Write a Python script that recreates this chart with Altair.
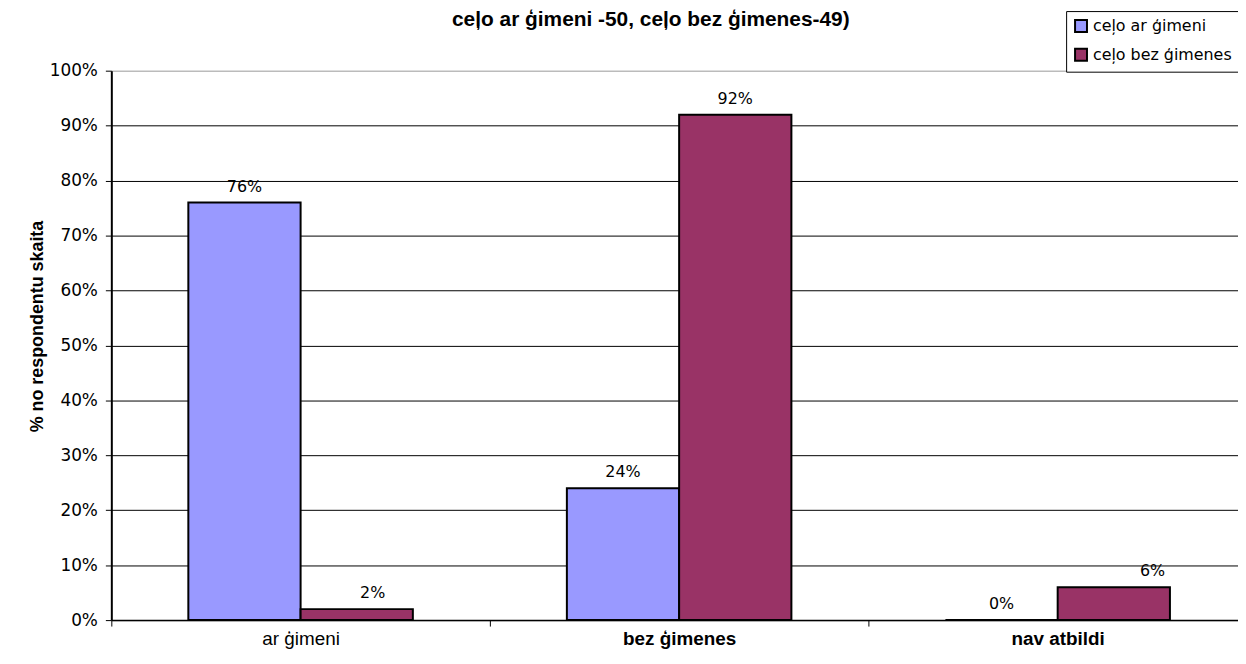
import altair as alt
import pandas as pd

categories = ["ar ģimeni", "bez ģimenes", "nav atbildi"]
series_names = ["ceļo ar ģimeni", "ceļo bez ģimenes"]
with_family = [0.76, 0.24, 0.00]
without_family = [0.02, 0.92, 0.06]
y_ticks = [0.0, 0.1, 0.2, 0.3, 0.4, 0.5, 0.6, 0.7, 0.8, 0.9, 1.0]
colors = ["#9999FF", "#993366"]
title_text = "ceļo ar ģimeni -50, ceļo bez ģimenes-49)"
y_title = "% no respondentu skaita"

rows = []
for i, c in enumerate(categories):
    rows.append({"category": c, "series": series_names[0], "value": with_family[i]})
    rows.append({"category": c, "series": series_names[1], "value": without_family[i]})
df = pd.DataFrame(rows)

x_enc = alt.X(
    "category:N",
    sort=categories,
    scale=alt.Scale(paddingInner=0, paddingOuter=0, range=[0, 1143]),
    axis=alt.Axis(
        title=None,
        labelFont="Liberation Sans",
        labelFontSize=19,
        labelFontWeight=alt.expr("datum.value == 'ar ģimeni' ? 'normal' : 'bold'"),
        labelColor="black",
        labelAngle=0,
        tickBand="extent",
        tickSize=6,
        tickColor="black",
        tickWidth=1,
        domainColor="black",
        domainWidth=1.5,
        labelPadding=4,
        grid=False,
    ),
)
xo_enc = alt.XOffset(
    "series:N", sort=series_names, scale=alt.Scale(paddingInner=0, paddingOuter=0.686)
)
y_enc = alt.Y(
    "value:Q",
    scale=alt.Scale(domain=[0, 1], nice=False),
    axis=alt.Axis(
        values=y_ticks,
        format=".0%",
        title=y_title,
        titleFont="Liberation Sans",
        titleFontSize=18,
        titleFontWeight="bold",
        titleColor="black",
        titleAngle=270,
        titleX=-74,
        titleY=257,
        titleAlign="center",
        titleBaseline="middle",
        labelFont="DejaVu Sans",
        labelFontSize=17,
        labelColor="black",
        labelPadding=8,
        tickSize=6,
        tickColor="black",
        domainColor="black",
        domainWidth=2,
        gridColor=alt.expr("datum.value == 1 ? '#999999' : 'black'"),
        gridWidth=1,
    ),
)

base = alt.Chart(df)

bars = base.mark_bar(stroke="black", strokeWidth=2).encode(
    x=x_enc,
    xOffset=xo_enc,
    y=y_enc,
    color=alt.Color(
        "series:N",
        sort=series_names,
        scale=alt.Scale(domain=series_names, range=colors),
        legend=alt.Legend(
            title=None,
            orient="none",
            legendX=961,
            legendY=-60,
            labelFont="DejaVu Sans",
            labelFontSize=16,
            labelColor="black",
            symbolType="square",
            symbolSize=144,
            symbolStrokeColor="black",
            symbolStrokeWidth=2,
            strokeColor="black",
            fillColor="white",
            padding=7,
            rowPadding=9,
            labelOffset=4,
        ),
    ),
)

def label_layer(data_filter, dx):
    return base.transform_filter(data_filter).mark_text(
        font="DejaVu Sans", fontSize=16, color="black", baseline="bottom", dy=-8, dx=dx
    ).encode(
        x=x_enc,
        xOffset=xo_enc,
        y=y_enc,
        text=alt.Text("value:Q", format=".0%"),
    )

is_two = f"datum.category == '{categories[0]}' && datum.series == '{series_names[1]}'"
is_six = f"datum.category == '{categories[2]}' && datum.series == '{series_names[1]}'"

labels_main = label_layer(f"!({is_two}) && !({is_six})", 0)
labels_two = label_layer(is_two, 16)
labels_six = label_layer(is_six, 39)

chart = (
    alt.layer(bars, labels_main, labels_two, labels_six)
    .properties(
        width=1134,
        height=553,
        autosize=alt.AutoSizeParams(type="none"),
        padding={"left": 104, "top": 61, "right": 0, "bottom": 29},
        title=alt.Title(
            text=title_text,
            font="Liberation Sans",
            fontSize=21,
            fontWeight="bold",
            color="black",
            anchor="middle",
            frame="group",
            dx=-24,
            offset=0,
            dy=20,
        ),
        background="white",
    )
    .configure_view(stroke=None)
)

chart.save("out.html", embed_options={"renderer": "svg", "actions": False})
